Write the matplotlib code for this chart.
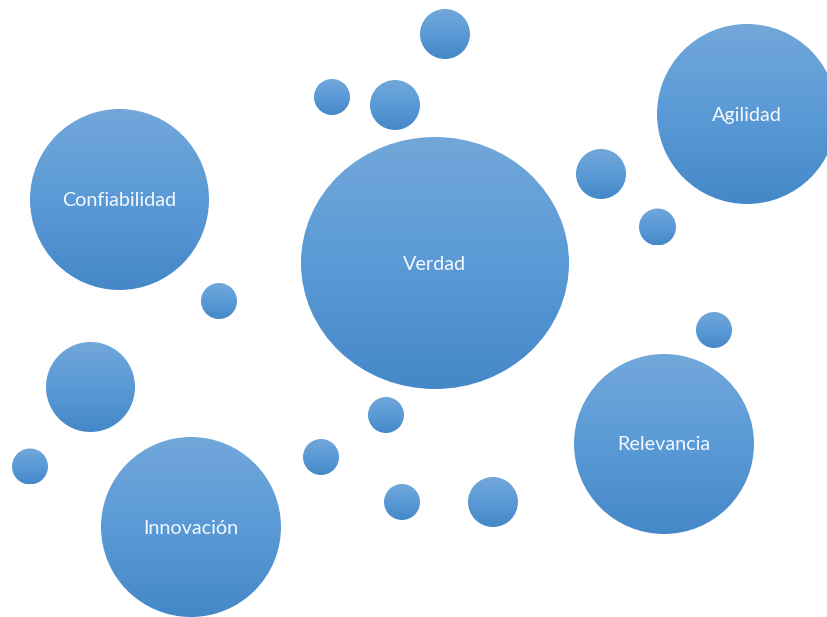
import numpy as np
import matplotlib
matplotlib.use("Agg")
import matplotlib.pyplot as plt
from matplotlib.patches import Ellipse
from matplotlib.colors import LinearSegmentedColormap

# burbujas: centro (px), radios (px), etiqueta
cx = [435, 119.5, 747, 664, 191,
      445, 332, 395, 601, 657.5, 219, 90.5, 714, 386, 30, 321, 402, 493]
cy = [263, 199.5, 114, 444, 527,
      34, 97, 105, 174, 227, 301, 387, 330, 415, 466.5, 457, 502, 502]
rx = [134, 89.5, 90, 90, 90,
      25, 18, 25, 25, 18.5, 18, 44.5, 18, 18, 18, 18, 18, 25]
ry = [126, 90.5, 90, 90, 90,
      25, 18, 25, 25, 18.5, 18, 45, 18, 18, 18, 18, 18, 25]
labels = ["Verdad", "Confiabilidad", "Agilidad", "Relevancia", "Innovación",
          "", "", "", "", "", "", "", "", "", "", "", "", ""]

W, H = 828, 617
fig = plt.figure(figsize=(W / 100, H / 100), dpi=100)
ax = fig.add_axes([0, 0, 1, 1])

cmap = LinearSegmentedColormap.from_list(
    "office", ["#72a7da", "#5a9ad6", "#4588c8"])
grad = np.linspace(0, 1, 256).reshape(-1, 1)

for x, y, a, b, lab in zip(cx, cy, rx, ry, labels):
    e = Ellipse((x, y), 2 * a, 2 * b, facecolor="none", edgecolor="none")
    ax.add_patch(e)
    im = ax.imshow(grad, cmap=cmap, origin="upper", aspect="auto",
                   extent=(x - a, x + a, y + b, y - b), interpolation="bilinear")
    im.set_clip_path(e)
    if lab:
        ax.text(x, y + 1, lab, color="#f4f8fc", ha="center", va="center",
                fontsize=14.2, family=["Lato", "DejaVu Sans"])

ax.set_xlim(0, W)
ax.set_ylim(H, 0)
ax.axis("off")

plt.savefig("out.png", dpi=100)
